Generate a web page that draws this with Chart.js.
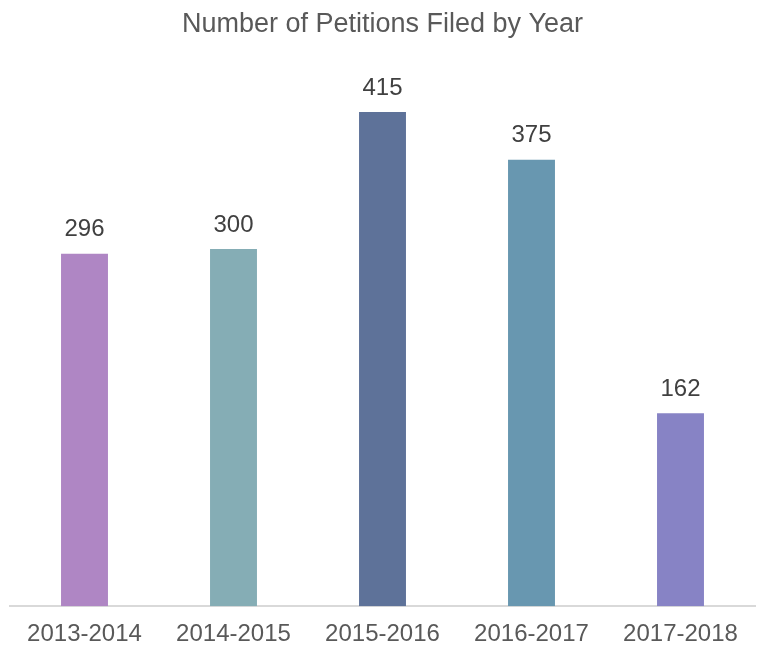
<!DOCTYPE html>
<html>
<head>
<meta charset="utf-8">
<script src="https://cdn.jsdelivr.net/npm/chart.js@4"></script>
<style>
  html, body { margin: 0; padding: 0; background: #fff; }
  #wrap { width: 758px; height: 649px; position: relative; }
</style>
</head>
<body>
<div id="wrap"><canvas id="petitionsChart"></canvas></div>
<script>
const years = ["2013-2014", "2014-2015", "2015-2016", "2016-2017", "2017-2018"];
const petitions = [296, 300, 415, 375, 162];
const barColors = ["#AF86C4", "#85ADB5", "#5E7299", "#6897B0", "#8783C5"];

const fontFamily = "'Liberation Sans', Arial, sans-serif";

// draws the value above each bar
const valueLabels = {
  id: "valueLabels",
  afterDatasetsDraw(chart) {
    const ctx = chart.ctx;
    const meta = chart.getDatasetMeta(0);
    ctx.save();
    ctx.font = "24px " + fontFamily;
    ctx.fillStyle = "#404040";
    ctx.textAlign = "center";
    ctx.textBaseline = "middle";
    meta.data.forEach((bar, i) => {
      ctx.fillText(chart.data.datasets[0].data[i], bar.x, bar.y - 24);
    });
    ctx.restore();
  }
};

new Chart(document.getElementById("petitionsChart"), {
  type: "bar",
  data: {
    labels: years,
    datasets: [
      {
        label: "Petitions",
        data: petitions,
        backgroundColor: barColors,
        borderWidth: 0,
        barPercentage: 0.315,
        categoryPercentage: 1,
      },
    ],
  },
  options: {
    responsive: true,
    maintainAspectRatio: false,
    animation: false,
    layout: { padding: { left: 10, right: 3, top: 0, bottom: -14 } },
    plugins: {
      legend: { display: false },
      tooltip: { enabled: false },
      title: {
        display: true,
        text: "Number of Petitions Filed by Year",
        color: "#595959",
        font: { family: fontFamily, size: 27, weight: "normal" },
        padding: { top: 8, bottom: 30 },
      },
    },
    scales: {
      x: {
        grid: { display: false, drawTicks: false },
        border: { display: true, color: "#D9D9D9", width: 2 },
        ticks: {
          color: "#595959",
          font: { family: fontFamily, size: 24 },
          padding: 14,
        },
      },
      y: {
        display: false,
        beginAtZero: true,
        max: 450,
      },
    },
  },
  plugins: [valueLabels],
});
</script>
</body>
</html>
